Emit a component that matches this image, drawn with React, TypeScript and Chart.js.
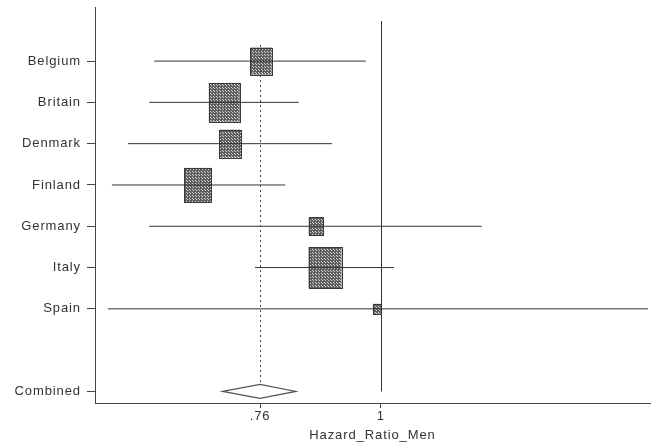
import { useEffect, useRef } from "react";
import { Chart, registerables } from "chart.js";

Chart.register(...registerables);

// Study rows, top to bottom
const countries = ["Belgium", "Britain", "Denmark", "Finland", "Germany", "Italy", "Spain"];
const hazardRatio = [0.762, 0.689, 0.701, 0.637, 0.871, 0.889, 0.992];
const ciLower = [0.55, 0.54, 0.498, 0.466, 0.54, 0.75, 0.458];
const ciUpper = [0.97, 0.837, 0.903, 0.81, 1.2, 1.026, 1.53];
const weights = [11.6, 23.8, 12.5, 18.5, 5.2, 26.8, 1.6];

// Pooled estimate
const combinedLabel = "Combined";
const combinedRatio = 0.76;
const combinedLower = 0.686;
const combinedUpper = 0.831;

// Axis
const xTicks = [0.76, 1];
const xTickLabels = [".76", "1"];
const xTitle = "Hazard_Ratio_Men";
const nullValue = 1;

const combinedRow = countries.length + 1;
const rowLabels: Record<number, string> = {};
countries.forEach((c, i) => (rowLabels[i] = c));
rowLabels[combinedRow] = combinedLabel;

const INK = "#333333";
const FONT = { family: "'Liberation Sans', Arial, sans-serif", size: 13 };

function makePattern(ctx: CanvasRenderingContext2D) {
  const tile = document.createElement("canvas");
  tile.width = 3;
  tile.height = 3;
  const t = tile.getContext("2d")!;
  t.fillStyle = "#5e5e5e";
  t.fillRect(0, 0, 3, 3);
  t.fillStyle = "#d8d8d8";
  t.fillRect(1, 1, 1, 1);
  t.fillRect(0, 0, 1, 1);
  return ctx.createPattern(tile, "repeat");
}

const forestPlugin = {
  id: "forest",
  beforeDraw(chart: any) {
    (chart.ctx as any).letterSpacing = "0.9px";
  },
  beforeDatasetsDraw(chart: any) {
    const { ctx, scales } = chart;
    const xs = scales.x;
    const ys = scales.y;
    const unit = Math.abs(ys.getPixelForValue(1) - ys.getPixelForValue(0));
    const pattern = makePattern(ctx);
    ctx.save();
    hazardRatio.forEach((hr, i) => {
      const h = 0.192 * Math.sqrt(weights[i]) * unit;
      const w = 0.8 * h;
      const cx = xs.getPixelForValue(hr);
      const cy = ys.getPixelForValue(i);
      ctx.fillStyle = pattern || "#999";
      ctx.fillRect(cx - w / 2, cy - h / 2, w, h);
      ctx.strokeStyle = "#3a3a3a";
      ctx.lineWidth = 1;
      ctx.strokeRect(Math.round(cx - w / 2) + 0.5, Math.round(cy - h / 2) + 0.5, Math.round(w), Math.round(h));
    });
    ctx.restore();
  },
  afterDatasetsDraw(chart: any) {
    const { ctx, scales } = chart;
    const xs = scales.x;
    const ys = scales.y;
    const unit = Math.abs(ys.getPixelForValue(1) - ys.getPixelForValue(0));
    const half = 0.17 * unit;
    const cy = ys.getPixelForValue(combinedRow);
    ctx.save();
    ctx.letterSpacing = "0px";

    // line of no effect
    const x1 = Math.round(xs.getPixelForValue(nullValue)) + 0.5;
    ctx.strokeStyle = INK;
    ctx.lineWidth = 1;
    ctx.beginPath();
    ctx.moveTo(x1, ys.getPixelForValue(-0.97));
    ctx.lineTo(x1, cy);
    ctx.stroke();

    // pooled estimate reference (dotted)
    const xc = Math.round(xs.getPixelForValue(combinedRatio)) + 0.5;
    ctx.setLineDash([2, 3]);
    ctx.strokeStyle = "#444";
    ctx.beginPath();
    ctx.moveTo(xc, ys.getPixelForValue(-0.39));
    ctx.lineTo(xc, cy - half);
    ctx.stroke();
    ctx.setLineDash([]);

    // pooled diamond
    const xl = xs.getPixelForValue(combinedLower);
    const xr = xs.getPixelForValue(combinedUpper);
    const xm = xs.getPixelForValue(combinedRatio);
    ctx.beginPath();
    ctx.moveTo(xl, cy);
    ctx.lineTo(xm, cy - half);
    ctx.lineTo(xr, cy);
    ctx.lineTo(xm, cy + half);
    ctx.closePath();
    ctx.fillStyle = "#fff";
    ctx.fill();
    ctx.strokeStyle = "#555";
    ctx.lineWidth = 1.2;
    ctx.stroke();
    ctx.restore();
  },
};

export default function App() {
  const ref = useRef<HTMLCanvasElement | null>(null);

  useEffect(() => {
    if (!ref.current) return;
    const datasets = countries.map((c, i) => ({
      type: "line" as const,
      label: c,
      data: [
        { x: ciLower[i], y: i },
        { x: ciUpper[i], y: i },
      ],
      borderColor: INK,
      borderWidth: 1,
      pointRadius: 0,
      fill: false,
    }));

    const chart = new Chart(ref.current, {
      type: "line",
      data: { datasets },
      plugins: [forestPlugin],
      options: {
        animation: false,
        responsive: false,
        layout: { padding: { top: 7, right: 1, left: 0, bottom: 0 } },
        plugins: { legend: { display: false }, tooltip: { enabled: false } },
        scales: {
          x: {
            type: "linear",
            min: 0.4325,
            max: 1.534,
            afterBuildTicks: (s: any) => {
              s.ticks = xTicks.map((v) => ({ value: v }));
            },
            afterFit: (s: any) => {
              s.height = 43;
              s.paddingLeft = 0;
              s.paddingRight = 0;
            },
            ticks: {
              color: INK,
              font: FONT,
              padding: 1,
              autoSkip: false,
              maxRotation: 0,
              callback: (v: any) => xTickLabels[xTicks.indexOf(Number(v))] ?? "",
            },
            grid: { drawOnChartArea: false, drawTicks: true, tickLength: 5, color: "#444" },
            border: { display: true, color: "#444", width: 1 },
            title: { display: true, text: xTitle, color: INK, font: FONT, padding: { top: 0, bottom: 3 } },
          },
          y: {
            type: "linear",
            reverse: true,
            min: -1.31,
            max: 8.28,
            afterBuildTicks: (s: any) => {
              s.ticks = Object.keys(rowLabels).map((k) => ({ value: Number(k) }));
            },
            afterFit: (s: any) => {
              s.width = 95;
              s.paddingTop = 0;
              s.paddingBottom = 0;
            },
            ticks: {
              color: INK,
              font: FONT,
              padding: 6,
              autoSkip: false,
              callback: (v: any) => rowLabels[Number(v)] ?? "",
            },
            grid: { drawOnChartArea: false, drawTicks: true, tickLength: 8, color: "#444" },
            border: { display: true, color: "#444", width: 1 },
          },
        },
      },
    } as any);
    return () => chart.destroy();
  }, []);

  return (
    <div style={{ position: "fixed", left: 0, top: 0, width: 651, height: 446, background: "#fff" }}>
      <canvas ref={ref} width={651} height={446} style={{ display: "block" }} />
    </div>
  );
}
